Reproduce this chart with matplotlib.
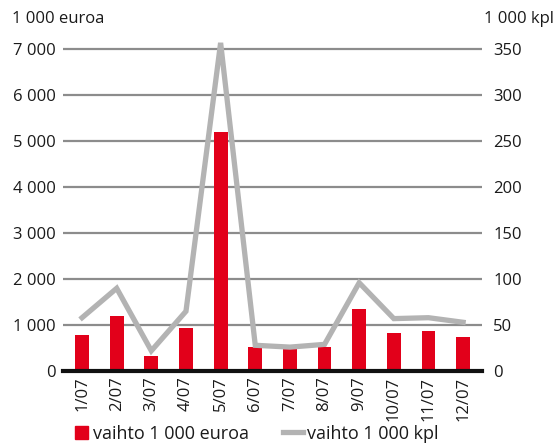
import numpy as np
import matplotlib.pyplot as plt
from matplotlib.lines import Line2D
from matplotlib.patches import Patch

plt.rcParams['font.family'] = ['Open Sans', 'DejaVu Sans']

# Kuukaudet ja arvot
kuukaudet = ['1/07', '2/07', '3/07', '4/07', '5/07', '6/07',
             '7/07', '8/07', '9/07', '10/07', '11/07', '12/07']
vaihto_euroa = [780, 1200, 320, 935, 5200, 520, 520, 520, 1340, 826, 870, 739]
vaihto_kpl = [58, 90, 22, 65, 357, 28, 26, 29, 96, 57, 58, 53]

vasen_ticks = [0, 1000, 2000, 3000, 4000, 5000, 6000, 7000]
oikea_ticks = [0, 50, 100, 150, 200, 250, 300, 350]

punainen = '#e2001a'
harmaa = '#b3b3b3'
teksti = '#1a1a1a'
koko = 12

fig = plt.figure(figsize=(5.6, 4.43), dpi=100)
ax = fig.add_axes([0.1125, 0.1625, 0.7485, 0.747])
x = np.arange(len(kuukaudet))

ax.bar(x, vaihto_euroa, width=0.4, color=punainen, zorder=2)
ax.set_xlim(-0.55, 11.55)
ax.set_ylim(0, 7200)
ax.set_yticks(vasen_ticks)
ax.set_yticklabels([f'{v:,}'.replace(',', ' ') for v in vasen_ticks])
ax.yaxis.grid(True, color='#8c8c8c', linewidth=1.6, zorder=0)
ax.set_axisbelow(True)
ax.set_xticks(x)
ax.set_xticklabels(kuukaudet, rotation=90)
ax.tick_params(axis='both', length=0, labelsize=koko, colors=teksti)
ax.tick_params(axis='y', pad=5)
ax.tick_params(axis='x', pad=4)
for s in ['top', 'right', 'left']:
    ax.spines[s].set_visible(False)
ax.spines['bottom'].set_linewidth(3)
ax.spines['bottom'].set_color('#111111')
ax.spines['bottom'].set_zorder(5)

ax2 = ax.twinx()
ax2.plot(x, vaihto_kpl, color=harmaa, linewidth=3.8, solid_joinstyle='miter', zorder=3)
ax2.set_ylim(0, 360)
ax2.set_yticks(oikea_ticks)
ax2.tick_params(axis='y', length=0, labelsize=koko, colors=teksti, pad=8)
for s in ['top', 'right', 'left', 'bottom']:
    ax2.spines[s].set_visible(False)

fig.text(0.021, 0.958, '1 000 euroa', fontsize=koko, color=teksti, va='center')
fig.text(0.989, 0.958, '1 000 kpl', fontsize=koko, color=teksti, va='center', ha='right')

# Selitteet erikseen, jotta merkit saadaan eri mittaisiksi
leg1 = fig.legend([Patch(color=punainen)], ['vaihto 1 000 euroa'], frameon=False,
                  loc='center left', bbox_to_anchor=(0.134, 0.021), fontsize=13,
                  handlelength=0.72, handleheight=0.75, handletextpad=0.25,
                  borderpad=0, borderaxespad=0)
leg2 = fig.legend([Line2D([0], [0], color=harmaa, linewidth=3.8)], ['vaihto 1 000 kpl'],
                  frameon=False, loc='center left', bbox_to_anchor=(0.505, 0.021),
                  fontsize=13, handlelength=1.1, handletextpad=0.25,
                  borderpad=0, borderaxespad=0)
for t in leg1.get_texts() + leg2.get_texts():
    t.set_color(teksti)

fig.savefig('out.png', dpi=100)
